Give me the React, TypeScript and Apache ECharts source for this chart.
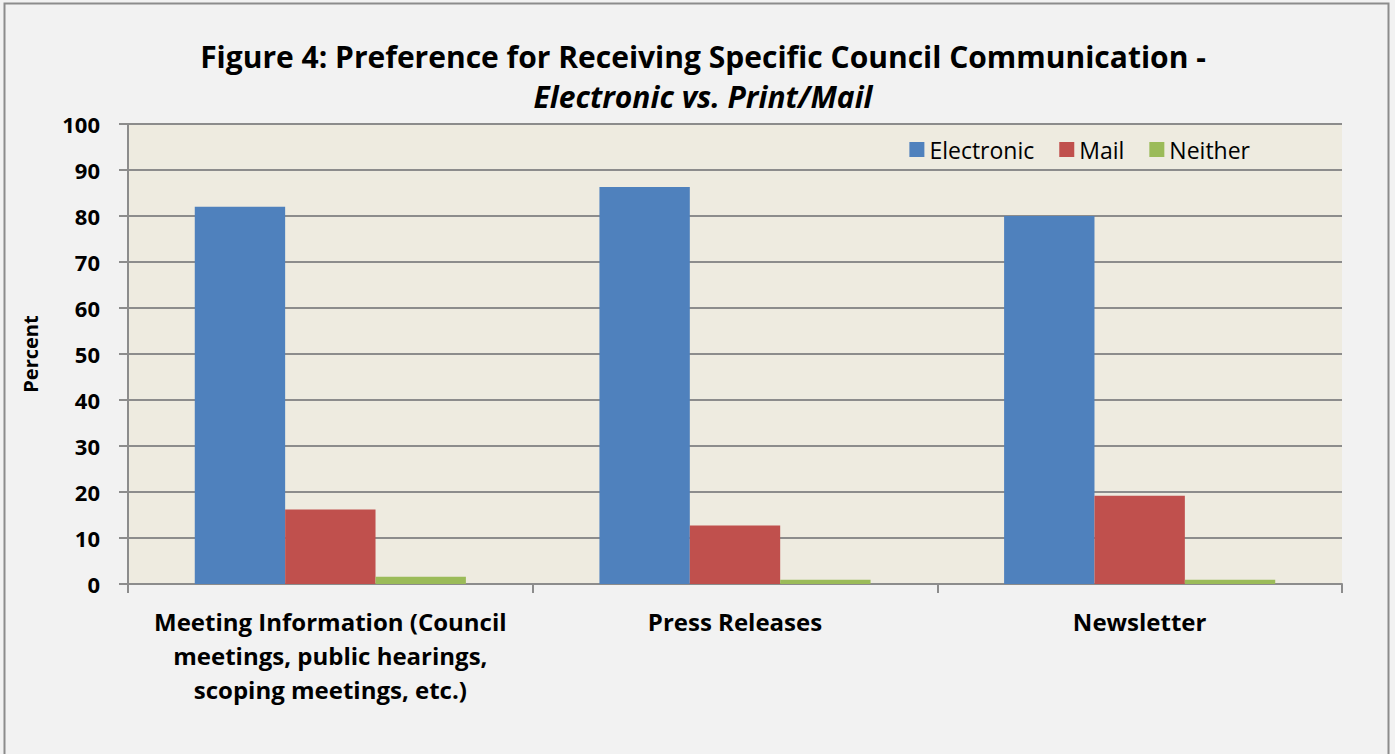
import React, { useEffect, useRef } from "react";
import * as echarts from "echarts";

const categories = [
  "Meeting Information (Council\nmeetings, public hearings,\nscoping meetings, etc.)",
  "Press Releases",
  "Newsletter",
];
const electronic = [82.0, 86.3, 80.0];
const mail = [16.2, 12.7, 19.2];
const neither = [1.6, 0.9, 0.9];

const FONT = "'Open Sans', 'Noto Sans', sans-serif";

export default function App() {
  const ref = useRef<HTMLDivElement>(null);
  useEffect(() => {
    document.body.style.margin = "0";
    const chart = echarts.init(ref.current!, null, { renderer: "svg" });
    chart.setOption({
      animation: false,
      backgroundColor: "#f2f2f2",
      textStyle: { fontFamily: FONT },
      graphic: [
        {
          type: "rect",
          shape: { x: 4.5, y: 3.5, width: 1384, height: 780 },
          style: { fill: "none", stroke: "#8c8c8c", lineWidth: 2 },
          silent: true,
        },
      ],
      title: [
        {
          text: "Figure 4: Preference for Receiving Specific Council Communication -",
          left: 698,
          textAlign: "center",
          top: 36,
          textStyle: { fontSize: 30, fontWeight: "bold", color: "#000", fontFamily: FONT },
        },
        {
          text: "Electronic vs. Print/Mail",
          left: 698,
          textAlign: "center",
          top: 76,
          textStyle: { fontSize: 30, fontWeight: "bold", fontStyle: "italic", color: "#000", fontFamily: FONT },
        },
      ],
      legend: {
        data: ["Electronic", "Mail", "Neither"],
        right: 140,
        top: 133,
        itemWidth: 15,
        itemHeight: 15,
        itemGap: 25,
        icon: "rect",
        textStyle: { fontSize: 23, color: "#000", fontFamily: FONT },
      },
      grid: {
        left: 128,
        right: 53,
        top: 124,
        bottom: 170,
        show: true,
        backgroundColor: "#eeebe0",
        borderWidth: 0,
      },
      xAxis: {
        type: "category",
        data: categories,
        axisLine: { lineStyle: { color: "#8c8c8c", width: 2 } },
        axisTick: { show: true, length: 9, lineStyle: { color: "#8c8c8c", width: 2 } },
        axisLabel: {
          fontSize: 24,
          fontWeight: "bold",
          color: "#000",
          lineHeight: 34,
          margin: 20,
          interval: 0,
          fontFamily: FONT,
        },
      },
      yAxis: {
        type: "value",
        min: 0,
        max: 100,
        interval: 10,
        name: "Percent",
        nameLocation: "middle",
        nameGap: 88,
        nameTextStyle: { fontSize: 20, fontWeight: "bold", color: "#000", fontFamily: FONT },
        axisLine: { show: true, lineStyle: { color: "#8c8c8c", width: 2 } },
        axisTick: { show: true, length: 9, lineStyle: { color: "#8c8c8c", width: 2 } },
        axisLabel: { fontSize: 22, fontWeight: "bold", color: "#000", margin: 28, fontFamily: FONT },
        splitLine: { lineStyle: { color: "#8c8c8c", width: 2 } },
      },
      series: [
        { name: "Electronic", type: "bar", data: electronic, itemStyle: { color: "#4f81bd" }, barGap: "0%", barCategoryGap: "33%" },
        { name: "Mail", type: "bar", data: mail, itemStyle: { color: "#c0504d" }, barGap: "0%", barCategoryGap: "33%" },
        { name: "Neither", type: "bar", data: neither, itemStyle: { color: "#9bbb59" }, barGap: "0%", barCategoryGap: "33%" },
      ],
    });
    return () => chart.dispose();
  }, []);
  return <div ref={ref} style={{ position: "absolute", left: 0, top: 0, width: 1395, height: 754 }} />;
}
